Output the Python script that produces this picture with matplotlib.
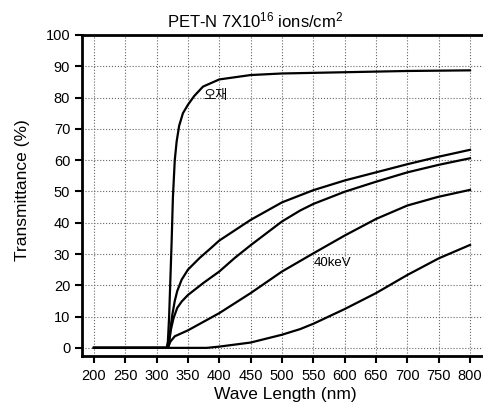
import numpy as np
import matplotlib.pyplot as plt

plt.rcParams['font.family'] = ['Liberation Sans', 'Noto Sans CJK KR']
plt.rcParams['mathtext.default'] = 'regular'

# untreated film (오재)
wl_base = [200, 300, 316, 318, 320, 322, 324, 326, 329, 332, 336, 342, 350, 360, 374, 400, 450, 500, 600, 700, 800]
t_base = [0, 0, 0, 2, 10, 22, 34, 48, 60, 66, 71, 75, 77.7, 80.5, 83.5, 85.8, 87.2, 87.7, 88.1, 88.5, 88.7]

# implanted curves, top to bottom
wl_a = [200, 300, 318, 320, 322, 325, 329, 333, 340, 350, 369, 385, 400, 450, 500, 550, 600, 650, 700, 750, 800]
t_a = [0, 0, 0, 2, 6, 10.5, 15.0, 18.2, 21.8, 25.0, 28.8, 31.6, 34.3, 40.9, 46.5, 50.4, 53.5, 56.1, 58.7, 61.1, 63.3]

wl_b = [200, 300, 318, 320, 323, 327, 333, 340, 350, 375, 400, 425, 450, 500, 529, 550, 600, 650, 700, 750, 800]
t_b = [0, 0, 0, 2, 6, 9.5, 12.8, 14.8, 16.9, 20.8, 24.4, 28.8, 32.8, 40.4, 43.9, 46.0, 49.9, 53.1, 56.1, 58.5, 60.6]

wl_c = [200, 300, 318, 322, 329, 350, 400, 450, 500, 550, 600, 650, 700, 750, 800]
t_c = [0, 0, 0, 2, 3.7, 5.6, 11.1, 17.5, 24.4, 30.2, 35.9, 41.2, 45.5, 48.3, 50.5]

wl_d = [200, 380, 400, 450, 500, 529, 550, 600, 650, 700, 750, 800]
t_d = [0, 0, 0.4, 1.7, 4.2, 6.0, 7.7, 12.4, 17.5, 23.3, 28.6, 32.9]

fig = plt.figure(figsize=(4.83, 4.07), dpi=100)
W, H = 483, 407
ax = fig.add_axes([82 / W, (H - 356) / H, (W - 82) / W, (356 - 35) / H])

for wl, t in [(wl_base, t_base), (wl_a, t_a), (wl_b, t_b), (wl_c, t_c), (wl_d, t_d)]:
    ax.plot(wl, t, color='black', lw=1.6)

ax.set_xlim(181, 820.7)
ax.set_ylim(-2.6, 100)
ax.set_xticks(np.arange(200, 801, 50))
ax.set_yticks(np.arange(0, 101, 10))
ax.grid(True, linestyle=':', color='0.4', lw=0.8)
ax.tick_params(direction='out', length=5, width=1.5, labelsize=10.5)
ax.tick_params(axis='x', pad=4)

for s in ['left', 'bottom', 'top']:
    ax.spines[s].set_linewidth(2)
ax.spines['right'].set_visible(False)

ax.text(374, 80.8, '오재', fontsize=9.5, va='center', ha='left',
        family=['Noto Sans CJK KR', 'Liberation Sans'])
ax.text(551, 27, '40keV', fontsize=9.5, va='center', ha='left')

ax.set_xlabel('Wave Length (nm)', fontsize=12.5)
ax.set_ylabel('Transmittance (%)', fontsize=12.5)
ax.xaxis.set_label_coords((285 - 82) / 401, (356 - 387) / 321)
ax.yaxis.set_label_coords((30 - 82) / 401, (356 - 190) / 321)

fig.text(255 / W, 1 - 20 / H, r'PET-N 7X10$^{16}$ ions/cm$^2$', fontsize=12,
         ha='center', va='center')

fig.savefig('out.png', dpi=100)
